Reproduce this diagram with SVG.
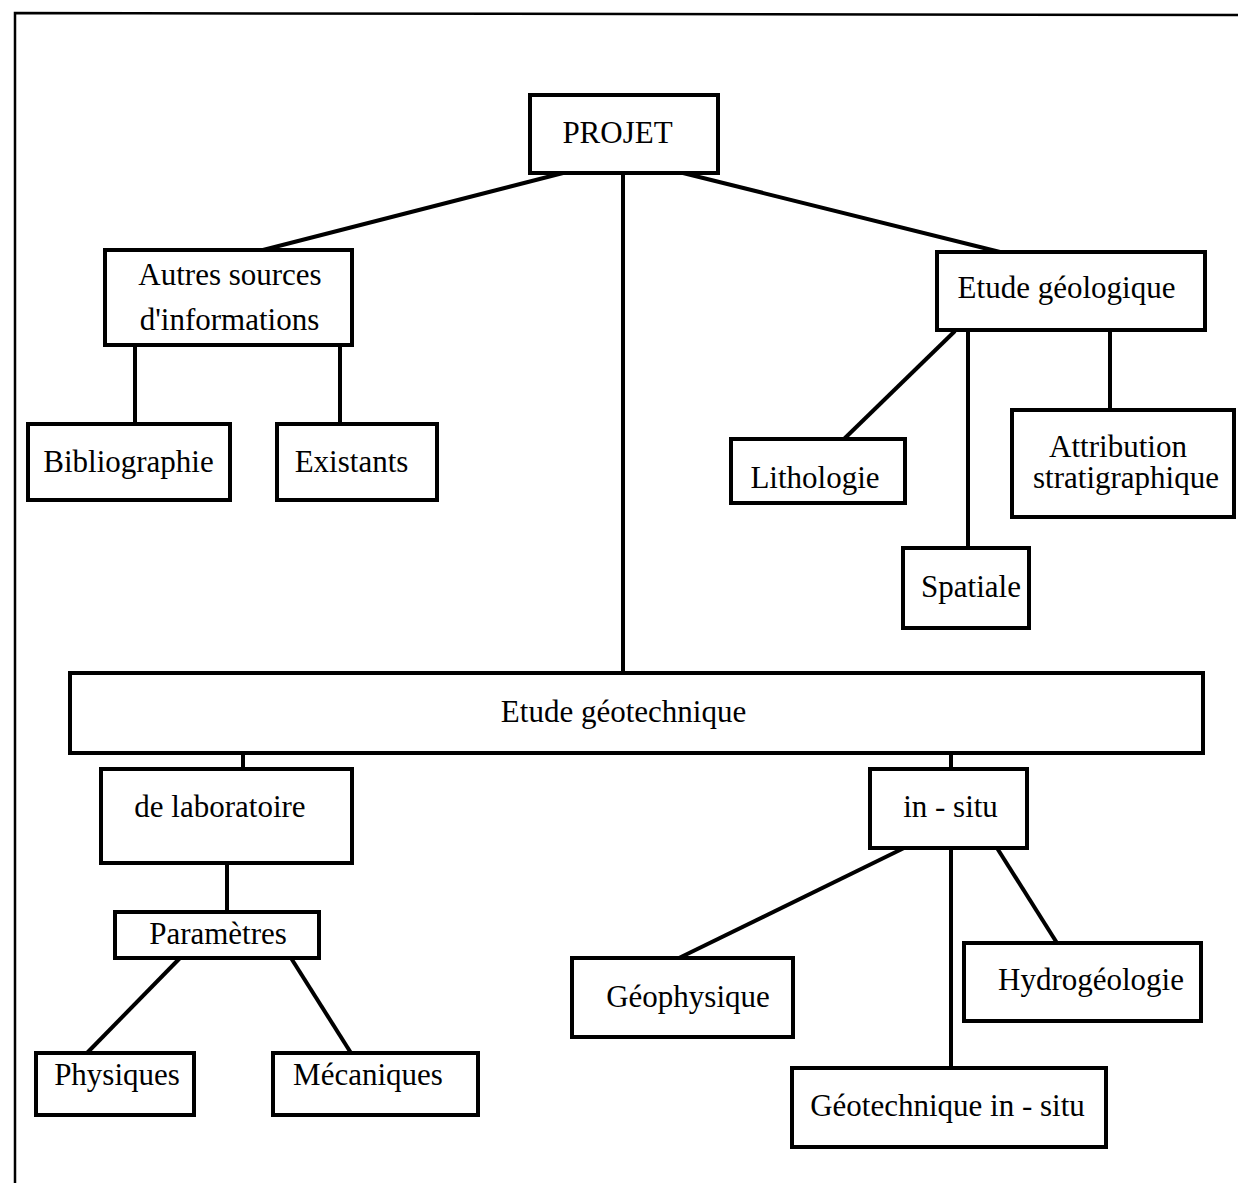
<svg xmlns="http://www.w3.org/2000/svg" width="1238" height="1183" viewBox="0 0 1238 1183">
  <style>
    .box { fill: #ffffff; stroke: #000000; stroke-width: 4; }
    .link { stroke: #000000; stroke-width: 4; fill: none; stroke-linecap: butt; }
    .frame { stroke: #000000; stroke-width: 2.5; fill: none; }
    text { font-family: "Liberation Serif", "Times New Roman", serif; font-size: 31px; fill: #000000; text-anchor: middle; }
  </style>
  <rect width="1238" height="1183" fill="#ffffff"/>
  <path class="frame" d="M15,1183 V13 L1238,15"/>

  <g id="connectors">
    <line class="link" x1="563" y1="173" x2="263" y2="250"/>
    <line class="link" x1="683" y1="173" x2="1000" y2="252"/>
    <line class="link" x1="623" y1="173" x2="623" y2="673"/>
    <line class="link" x1="135" y1="345" x2="135" y2="424"/>
    <line class="link" x1="340" y1="345" x2="340" y2="424"/>
    <line class="link" x1="955" y1="331" x2="844" y2="439"/>
    <line class="link" x1="968" y1="330" x2="968" y2="548"/>
    <line class="link" x1="1110" y1="330" x2="1110" y2="410"/>
    <line class="link" x1="243" y1="753" x2="243" y2="769"/>
    <line class="link" x1="227" y1="863" x2="227" y2="912"/>
    <line class="link" x1="180" y1="958" x2="87" y2="1053"/>
    <line class="link" x1="291" y1="958" x2="351" y2="1053"/>
    <line class="link" x1="951" y1="753" x2="951" y2="769"/>
    <line class="link" x1="904" y1="848" x2="679" y2="958"/>
    <line class="link" x1="951" y1="848" x2="951" y2="1068"/>
    <line class="link" x1="997" y1="848" x2="1057" y2="943"/>
  </g>

  <g id="projet">
    <rect class="box" x="530" y="95" width="188" height="78"/>
    <text x="617.5" y="143">PROJET</text>
  </g>
  <g id="autres-sources">
    <rect class="box" x="105" y="250" width="247" height="95"/>
    <text x="230" y="285">Autres sources</text>
    <text x="229.5" y="330">d'informations</text>
  </g>
  <g id="bibliographie">
    <rect class="box" x="28" y="424" width="202" height="76"/>
    <text x="128.5" y="472">Bibliographie</text>
  </g>
  <g id="existants">
    <rect class="box" x="277" y="424" width="160" height="76"/>
    <text x="351.5" y="472">Existants</text>
  </g>
  <g id="etude-geologique">
    <rect class="box" x="937" y="252" width="268" height="78"/>
    <text x="1066.5" y="298">Etude géologique</text>
  </g>
  <g id="lithologie">
    <rect class="box" x="731" y="439" width="174" height="64"/>
    <text x="815" y="488">Lithologie</text>
  </g>
  <g id="spatiale">
    <rect class="box" x="903" y="548" width="126" height="80"/>
    <text x="971" y="597">Spatiale</text>
  </g>
  <g id="attribution">
    <rect class="box" x="1012" y="410" width="222" height="107"/>
    <text x="1118" y="457">Attribution</text>
    <text x="1126" y="488">stratigraphique</text>
  </g>
  <g id="etude-geotechnique">
    <rect class="box" x="70" y="673" width="1133" height="80"/>
    <text x="623.5" y="722">Etude géotechnique</text>
  </g>
  <g id="laboratoire">
    <rect class="box" x="101" y="769" width="251" height="94"/>
    <text x="220" y="817">de laboratoire</text>
  </g>
  <g id="parametres">
    <rect class="box" x="115" y="912" width="204" height="46"/>
    <text x="218" y="944">Paramètres</text>
  </g>
  <g id="physiques">
    <rect class="box" x="36" y="1053" width="158" height="62"/>
    <text x="117" y="1085">Physiques</text>
  </g>
  <g id="mecaniques">
    <rect class="box" x="273" y="1053" width="205" height="62"/>
    <text x="368" y="1085">Mécaniques</text>
  </g>
  <g id="in-situ">
    <rect class="box" x="870" y="769" width="157" height="79"/>
    <text x="950.5" y="817">in - situ</text>
  </g>
  <g id="geophysique">
    <rect class="box" x="572" y="958" width="221" height="79"/>
    <text x="688" y="1007">Géophysique</text>
  </g>
  <g id="hydrogeologie">
    <rect class="box" x="964" y="943" width="237" height="78"/>
    <text x="1091" y="990">Hydrogéologie</text>
  </g>
  <g id="geotechnique-in-situ">
    <rect class="box" x="792" y="1068" width="314" height="79"/>
    <text x="947.5" y="1116">Géotechnique in - situ</text>
  </g>
</svg>
